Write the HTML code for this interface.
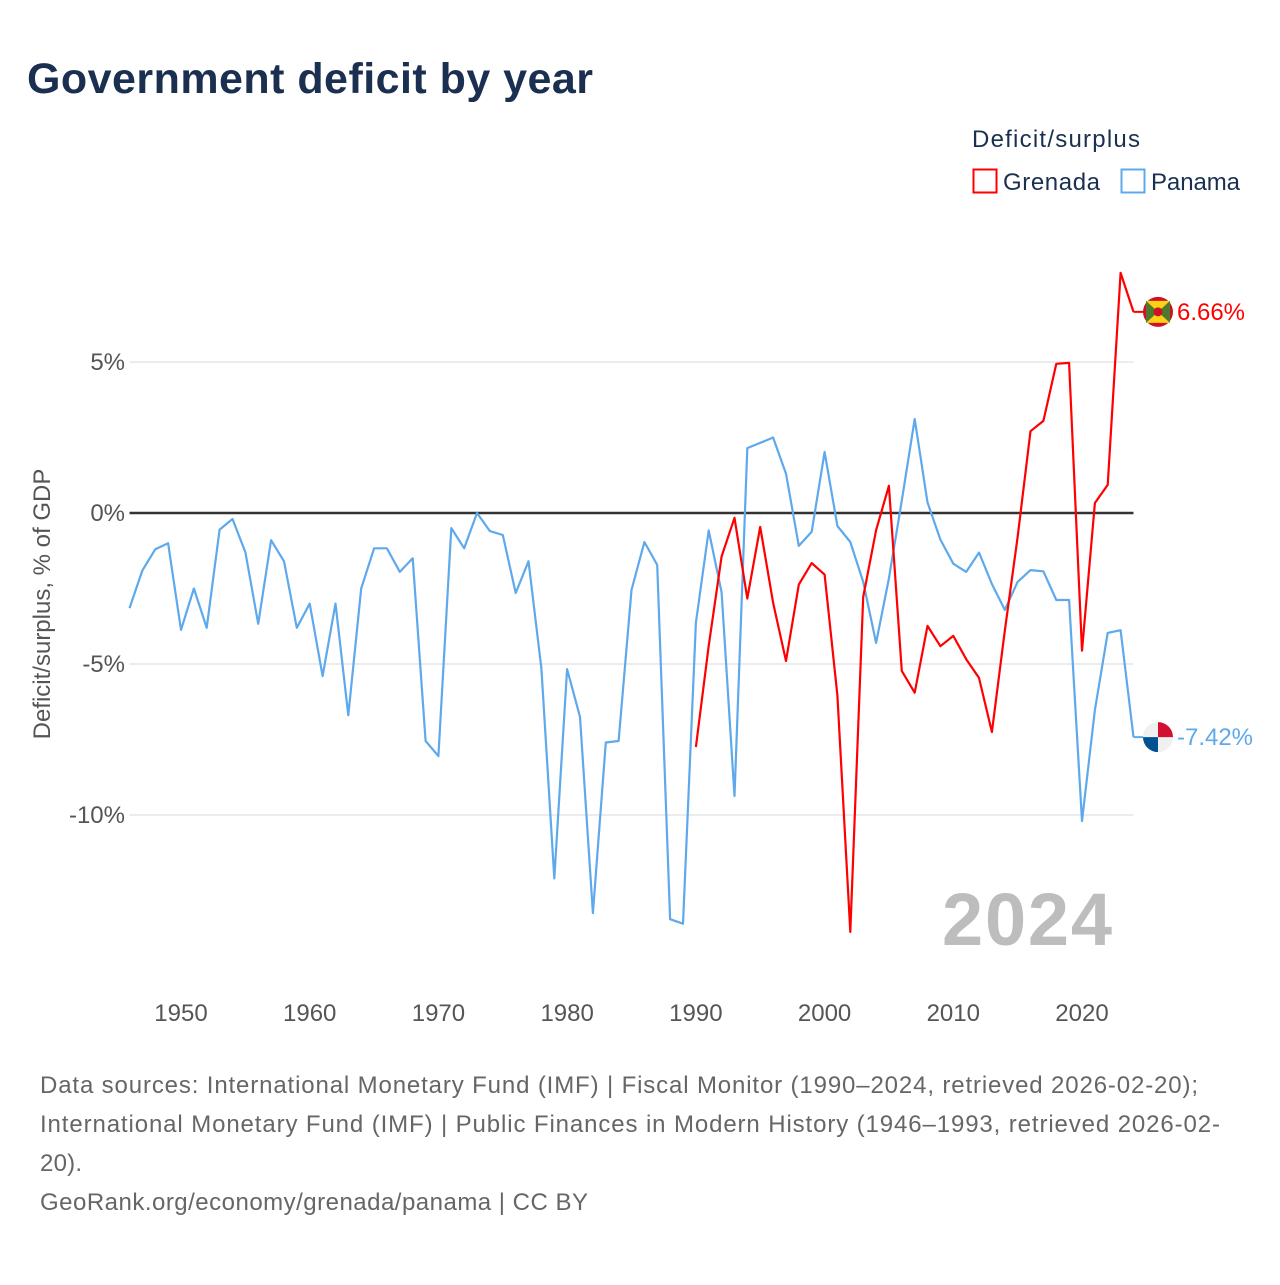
<!DOCTYPE html>
<html><head><meta charset="utf-8">
<style>
body{margin:0;background:#fff;font-family:"Liberation Sans",sans-serif;}
svg text{font-family:"Liberation Sans",sans-serif;}
</style></head>
<body>
<svg width="1280" height="1280" viewBox="0 0 1280 1280">
<text x="27" y="93" font-size="43" font-weight="bold" fill="#1b3050" textLength="566">Government deficit by year</text>
<g>
<text x="972" y="147" font-size="24" fill="#1b3050" textLength="168">Deficit/surplus</text>
<rect x="973.5" y="169.5" width="23" height="23" fill="#fff" stroke="#ff0000" stroke-width="2"/>
<text x="1003" y="190" font-size="24" fill="#1b3050" textLength="97">Grenada</text>
<rect x="1121.5" y="169.5" width="23" height="23" fill="#fff" stroke="#5ea9ec" stroke-width="2"/>
<text x="1151" y="190" font-size="24" fill="#1b3050" textLength="89">Panama</text>
</g>
<g id="grid"></g>
<g id="axes"></g>
<text transform="translate(50,0) rotate(-90)" text-anchor="middle" font-size="24" fill="#555"><tspan x="-604" y="0">Deficit/surplus, % of GDP</tspan></text>
<text x="1112" y="945" text-anchor="end" font-size="74" font-weight="bold" fill="#bdbdbd" textLength="170">2024</text>
<g id="series"></g>
<g font-size="24" fill="#666">
<text x="40" y="1093" textLength="1158">Data sources: International Monetary Fund (IMF) | Fiscal Monitor (1990–2024, retrieved 2026-02-20);</text>
<text x="40" y="1132" textLength="1180">International Monetary Fund (IMF) | Public Finances in Modern History (1946–1993, retrieved 2026-02-</text>
<text x="40" y="1171" textLength="42">20).</text>
<text x="40" y="1210" textLength="548">GeoRank.org/economy/grenada/panama | CC BY</text>
</g>
</svg>
<script>
const panamaStart = 1946;
const panamaValues = [-3.15,-1.9,-1.2,-1.0,-3.87,-2.5,-3.8,-0.55,-0.2,-1.3,-3.67,-0.9,-1.6,-3.8,-3.0,-5.4,-3.0,-6.7,-2.5,-1.17,-1.17,-1.95,-1.5,-7.55,-8.05,-0.5,-1.17,0.0,-0.6,-0.73,-2.65,-1.6,-5.15,-12.1,-5.17,-6.75,-13.25,-7.6,-7.55,-2.55,-0.96,-1.72,-13.45,-13.6,-3.63,-0.58,-2.63,-9.37,2.15,2.32,2.5,1.3,-1.09,-0.62,2.02,-0.43,-0.96,-2.28,-4.3,-2.17,0.41,3.11,0.35,-0.88,-1.68,-1.95,-1.31,-2.35,-3.21,-2.28,-1.89,-1.93,-2.88,-2.88,-10.2,-6.52,-3.97,-3.88,-7.42];
const grenadaStart = 1990;
const grenadaValues = [-7.75,-4.4,-1.44,-0.16,-2.83,-0.46,-2.97,-4.9,-2.37,-1.66,-2.04,-6.04,-13.87,-2.78,-0.57,0.9,-5.23,-5.95,-3.74,-4.41,-4.07,-4.84,-5.46,-7.25,-3.9,-0.8,2.71,3.05,4.94,4.97,-4.56,0.33,0.93,7.95,6.66];
const yTicks = [5,0,-5,-10];
const yTickLabels = ["5%","0%","-5%","-10%"];
const xTicks = [1950,1960,1970,1980,1990,2000,2010,2020];

const NS="http://www.w3.org/2000/svg";
const X=y=>181+(y-1950)*(1082-181)/70;
const Y=v=>513-v*30.2;
const x0=X(1946), x1=X(2024);
function mk(tag,attrs,parent){const e=document.createElementNS(NS,tag);for(const k in attrs)e.setAttribute(k,attrs[k]);parent.appendChild(e);return e;}
const grid=document.getElementById('grid'), axes=document.getElementById('axes'), ser=document.getElementById('series');
yTicks.forEach((t,i)=>{
  if(t!==0){const l=mk('line',{x1:x0,x2:x1,y1:Y(t),y2:Y(t),stroke:'#e6e6e6','stroke-width':1.5},grid);
  
  }
  const tx=mk('text',{x:125,y:Y(t)+8,'text-anchor':'end','font-size':24,fill:'#555'},axes);
  tx.textContent=yTickLabels[i];
  
  
});
xTicks.forEach(t=>{
  const tx=mk('text',{x:X(t),y:1021,'text-anchor':'middle','font-size':24,fill:'#555'},axes);
  tx.textContent=t;
  
  
});
function line(vals,start,color,name){
  const pts=vals.map((v,i)=>X(start+i).toFixed(1)+','+Y(v).toFixed(1)).join(' ');
  const p=mk('polyline',{points:pts,fill:'none',stroke:color,'stroke-width':2.2,'stroke-linejoin':'round'},ser);
  
  
}
line(panamaValues,panamaStart,'#5ea9ec','series-panama');
line(grenadaValues,grenadaStart,'#ff0000','series-grenada');
const zl=mk('line',{x1:x0,x2:x1,y1:Y(0),y2:Y(0),stroke:'#333','stroke-width':2.5},axes);



const gv=grenadaValues[grenadaValues.length-1], pv=panamaValues[panamaValues.length-1];
const fx=1158;
const gl=mk('line',{x1:x1,x2:fx,y1:Y(gv),y2:Y(gv),stroke:'#ff0000','stroke-width':2},ser);


const pl=mk('line',{x1:x1,x2:fx,y1:Y(pv),y2:Y(pv),stroke:'#5ea9ec','stroke-width':2},ser);


const gf=mk('g',{},ser);


const cy=Y(gv);
mk('circle',{cx:fx,cy:cy,r:15,fill:'#ce1126'},gf);
mk('rect',{x:fx-12,y:cy-11,width:24,height:22,fill:'#fcd116'},gf);
mk('polygon',{points:`${fx-12},${cy-11} ${fx},${cy} ${fx-12},${cy+11}`,fill:'#4f7a2e'},gf);
mk('polygon',{points:`${fx+12},${cy-11} ${fx},${cy} ${fx+12},${cy+11}`,fill:'#4f7a2e'},gf);
mk('circle',{cx:fx,cy:cy,r:4.5,fill:'#ce1126'},gf);
const gt=mk('text',{x:1177,y:cy+8,'font-size':24,fill:'#ff0000',textLength:68},ser);
gt.textContent=gv.toFixed(2)+'%';


const pf=mk('g',{},ser);


const py=Y(pv);
mk('circle',{cx:fx,cy:py,r:15,fill:'#f0f0f0'},pf);
mk('path',{d:`M${fx},${py} L${fx},${py-15} A15,15 0 0 1 ${fx+15},${py} Z`,fill:'#d21034'},pf);
mk('path',{d:`M${fx},${py} L${fx},${py+15} A15,15 0 0 1 ${fx-15},${py} Z`,fill:'#005293'},pf);
const pt=mk('text',{x:1177,y:py+8,'font-size':24,fill:'#5ea9ec',textLength:76},ser);
pt.textContent=pv.toFixed(2)+'%';


</script>
</body></html>
